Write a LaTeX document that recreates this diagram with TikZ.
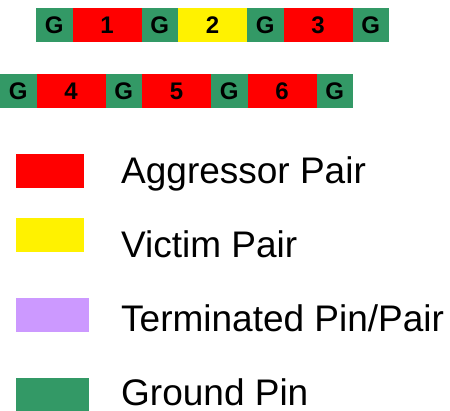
\documentclass[tikz,border=0pt]{standalone}
\usepackage{fontspec}
\setmainfont{Liberation Sans}
\usetikzlibrary{positioning}
\definecolor{gndgreen}{HTML}{339966}
\definecolor{termpurple}{HTML}{CC99FF}

\begin{document}
\begin{tikzpicture}[x=1pt,y=-1pt,
  cell/.style={minimum height=34pt,inner sep=0pt,outer sep=0pt,
    font=\fontsize{24}{24}\selectfont\bfseries},
  gnd/.style={cell,fill=gndgreen,minimum width=36.5pt},
  pair/.style={cell,minimum width=69pt},
  swatch/.style={inner sep=0pt,outer sep=0pt,minimum height=34pt,anchor=north west},
  keytext/.style={anchor=base west,inner sep=0pt,font=\fontsize{37}{37}\selectfont}]

\useasboundingbox (0,0) rectangle (450,411);

% first row of pins
\node[gnd,anchor=north west] (ga1) at (36,8) {G};
\node[pair,fill=red,right=0pt of ga1] (pa1) {1};
\node[gnd,right=0pt of pa1] (ga2) {G};
\node[pair,fill=yellow,right=0pt of ga2] (pa2) {2};
\node[gnd,right=0pt of pa2] (ga3) {G};
\node[pair,fill=red,right=0pt of ga3] (pa3) {3};
\node[gnd,right=0pt of pa3] (ga4) {G};

% second row of pins
\node[gnd,anchor=north west] (gb1) at (0,74) {G};
\node[pair,fill=red,right=0pt of gb1] (pb4) {4};
\node[gnd,right=0pt of pb4] (gb2) {G};
\node[pair,fill=red,right=0pt of gb2] (pb5) {5};
\node[gnd,right=0pt of pb5] (gb3) {G};
\node[pair,fill=red,right=0pt of gb3] (pb6) {6};
\node[gnd,right=0pt of pb6] (gb4) {G};

% legend
\node[swatch,fill=red,minimum width=68pt] (kaggr) at (16,154) {};
\node[keytext] (taggr) at (121,184) {Aggressor Pair};

\node[swatch,fill=yellow,minimum width=68pt] (kvict) at (16,218) {};
\node[keytext] (tvict) at (121,258) {Victim Pair};

\node[swatch,fill=termpurple,minimum width=73pt] (kterm) at (16,298) {};
\node[keytext] (tterm) at (121,332) {Terminated Pin/Pair};

\node[swatch,fill=gndgreen,minimum width=73pt,minimum height=33pt] (kgnd) at (16,378) {};
\node[keytext] (tgnd) at (121,405.5) {Ground Pin};

\end{tikzpicture}
\end{document}
